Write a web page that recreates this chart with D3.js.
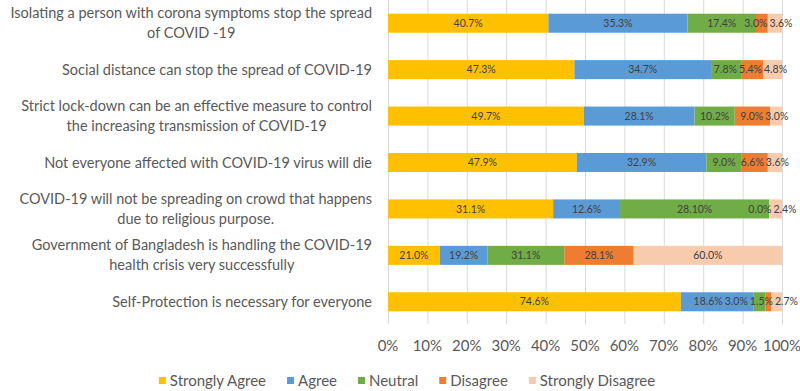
<!DOCTYPE html>
<html>
<head>
<meta charset="utf-8">
<script src="https://cdn.jsdelivr.net/npm/d3@7"></script>
<style>
  body { margin: 0; background: #fff; }
  svg { display: block; font-family: Lato, "Open Sans", sans-serif; }
</style>
</head>
<body>
<svg id="chart"></svg>
<script>
// statements, top to bottom; "\n" marks the line breaks of the picture
const statements = [
    "Isolating a person with corona symptoms stop the spread\nof COVID -19",
    "Social distance can stop the spread of COVID-19",
    "Strict lock-down can be an effective measure to control\nthe increasing transmission of COVID-19",
    "Not everyone affected with COVID-19 virus will die",
    "COVID-19 will not be spreading on crowd that happens\ndue to religious purpose.",
    "Government of Bangladesh is handling the COVID-19\nhealth crisis very successfully",
    "Self-Protection is necessary for everyone"
];

const seriesNames = ["Strongly Agree", "Agree", "Neutral", "Disagree", "Strongly Disagree"];

const stronglyAgree    = [40.7, 47.3, 49.7, 47.9, 31.1, 21.0, 74.6];
const agree            = [35.3, 34.7, 28.1, 32.9, 12.6, 19.2, 18.6];
const neutral          = [17.4, 7.8, 10.2, 9.0, 28.10, 31.1, 3.0];
const disagree         = [3.0, 5.4, 9.0, 6.6, 0.0, 28.1, 1.5];
const stronglyDisagree = [3.6, 4.8, 3.0, 3.6, 2.4, 60.0, 2.7];

// the one label printed with two decimals in the source
const labelOverrides = { "Neutral-4": "28.10%" };

const xTicks = [0, 0.1, 0.2, 0.3, 0.4, 0.5, 0.6, 0.7, 0.8, 0.9, 1];

const colors = ["#ffc000", "#5b9bd5", "#70ad47", "#ed7d31", "#f8cbad"];

const W = 800, H = 391;
const svg = d3.select("#chart").attr("width", W).attr("height", H);

const allSeries = [stronglyAgree, agree, neutral, disagree, stronglyDisagree];

// 100% stacked: every row is normalised by its own total
const rows = statements.map((s, i) => {
    const row = { statement: s };
    seriesNames.forEach((name, k) => row[name] = allSeries[k][i]);
    return row;
});
const stacked = d3.stack().keys(seriesNames).offset(d3.stackOffsetExpand)(rows);

const x = d3.scaleLinear().domain([0, 1]).range([388, 782]);
const y = d3.scaleBand().domain(statements).range([0, 325]).paddingInner(0.59).paddingOuter(0.295);
const color = d3.scaleOrdinal().domain(seriesNames).range(colors);

// grid lines
svg.append("g")
    .selectAll("line")
    .data(xTicks)
    .join("line")
    .attr("x1", d => x(d) + 0.5)
    .attr("x2", d => x(d) + 0.5)
    .attr("y1", 0)
    .attr("y2", 324)
    .attr("stroke", "#d9d9d9")
    .attr("stroke-width", 1);

// bars
svg.append("g")
    .selectAll("g")
    .data(stacked)
    .join("g")
    .attr("fill", d => color(d.key))
    .selectAll("rect")
    .data(d => d)
    .join("rect")
    .attr("x", d => x(d[0]))
    .attr("width", d => x(d[1]) - x(d[0]))
    .attr("y", d => y(d.data.statement))
    .attr("height", y.bandwidth());

// segment labels, one row at a time so crowded ones can be pushed apart
const labelLayer = svg.append("g");
const rightLimit = W - 2;
statements.forEach((s, i) => {
    const items = stacked.map(series => ({
        key: series.key,
        cx: (x(series[i][0]) + x(series[i][1])) / 2,
        text: labelOverrides[series.key + "-" + i] || d3.format(".1f")(series[i].data[series.key]) + "%"
    }));
    const texts = labelLayer.selectAll(null)
        .data(items)
        .join("text")
        .attr("y", y(s) + y.bandwidth() / 2)
        .attr("dy", "0.35em")
        .attr("text-anchor", "middle")
        .attr("fill", "#404040")
        .style("font-size", "10.5px")
        .text(d => d.text);
    texts.each(function(d) { d.w = this.getComputedTextLength(); });
    // small relaxation: separate neighbours that overlap, keep the last one inside
    for (let iter = 0; iter < 60; iter++) {
        for (let k = 0; k < items.length - 1; k++) {
            const a = items[k], b = items[k + 1];
            const need = (a.w + b.w) / 2 + 2;
            const gap = b.cx - a.cx;
            if (gap < need) {
                const push = (need - gap) / 2;
                a.cx -= push;
                b.cx += push;
            }
        }
        const last = items[items.length - 1];
        last.cx = Math.min(last.cx, rightLimit - last.w / 2);
    }
    texts.attr("x", d => d.cx);
});

// x axis labels
svg.append("g")
    .selectAll("text")
    .data(xTicks)
    .join("text")
    .attr("x", d => x(d))
    .attr("y", 346)
    .attr("dy", "0.35em")
    .attr("text-anchor", "middle")
    .attr("fill", "#595959")
    .style("font-size", "15px")
    .text(d => d3.format(".0%")(d));

// category labels: right aligned block, lines centred inside it
const labelRight = 372;
const lineHeight = 20;
statements.forEach(s => {
    const lines = s.split("\n");
    const texts = svg.append("g")
        .selectAll("text")
        .data(lines)
        .join("text")
        .attr("y", (d, i) => y(s) + y.bandwidth() / 2 + (i - (lines.length - 1) / 2) * lineHeight)
        .attr("dy", "0.35em")
        .attr("text-anchor", "middle")
        .attr("fill", "#595959")
        .style("font-size", "14.5px")
        .text(d => d);
    let maxW = 0;
    texts.each(function() { maxW = Math.max(maxW, this.getComputedTextLength()); });
    texts.attr("x", labelRight - maxW / 2);
});

// legend
const legend = svg.append("g");
let lx = 0;
seriesNames.forEach(name => {
    const item = legend.append("g").attr("transform", `translate(${lx},0)`);
    item.append("rect")
        .attr("x", 0).attr("y", -4)
        .attr("width", 7).attr("height", 7)
        .attr("fill", color(name));
    const t = item.append("text")
        .attr("x", 11)
        .attr("y", 0)
        .attr("dy", "0.35em")
        .attr("fill", "#595959")
        .style("font-size", "15px")
        .text(name);
    lx += 11 + t.node().getComputedTextLength() + 21;
});
const legendW = lx - 21;
legend.attr("transform", `translate(${407 - legendW / 2},381)`);
</script>
</body>
</html>
